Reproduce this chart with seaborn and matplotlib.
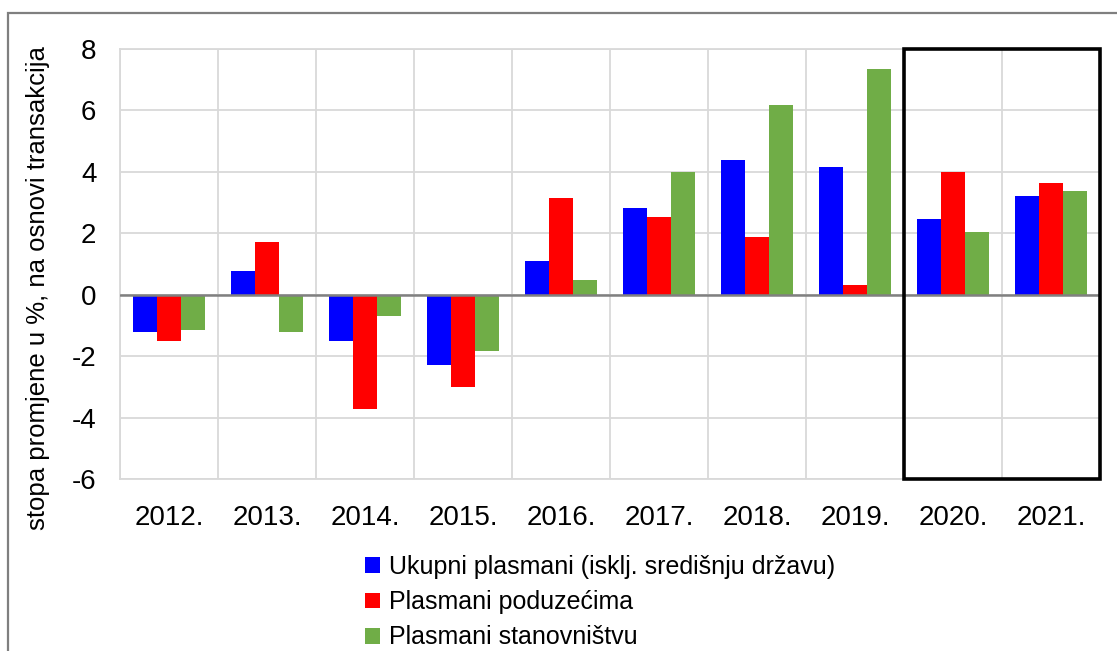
import pandas as pd
import numpy as np
import matplotlib.pyplot as plt
import matplotlib.patches as patches
import seaborn as sns

# Data
years = ["2012.", "2013.", "2014.", "2015.", "2016.", "2017.", "2018.", "2019.", "2020.", "2021."]
ukupni = [-1.2, 0.77, -1.52, -2.3, 1.09, 2.83, 4.39, 4.16, 2.48, 3.22]
poduzeca = [-1.52, 1.73, -3.73, -3.0, 3.14, 2.53, 1.89, 0.33, 3.98, 3.64]
stanovnistvo = [-1.15, -1.2, -0.68, -1.82, 0.48, 3.98, 6.19, 7.35, 2.05, 3.38]

series_names = ["Ukupni plasmani (isklj. središnju državu)",
                "Plasmani poduzećima",
                "Plasmani stanovništvu"]
colors = ["#0000ff", "#ff0000", "#70ad47"]
y_ticks = [-6, -4, -2, 0, 2, 4, 6, 8]
y_label = "stopa promjene u %, na osnovi transakcija"

df = pd.DataFrame({
    "godina": years * 3,
    "vrijednost": ukupni + poduzeca + stanovnistvo,
    "serija": [series_names[0]] * 10 + [series_names[1]] * 10 + [series_names[2]] * 10,
})

sns.set_style("white")
plt.rcParams["font.family"] = ["Liberation Sans", "DejaVu Sans"]
plt.rcParams["text.color"] = "black"
plt.rcParams["axes.labelcolor"] = "black"
plt.rcParams["xtick.color"] = "black"
plt.rcParams["ytick.color"] = "black"

fig = plt.figure(figsize=(11.17, 6.51), dpi=100)
ax = fig.add_axes([120 / 1117, 1 - 479 / 651, 980 / 1117, 430 / 651])

sns.barplot(data=df, x="godina", y="vrijednost",
            hue="serija", hue_order=series_names, order=years,
            palette=colors, width=0.725, linewidth=0, saturation=1,
            ax=ax, legend=True)

ax.set_ylim(-6, 8)
ax.set_xlim(-0.5, len(years) - 0.5)
ax.set_yticks(y_ticks)
ax.set_yticklabels([str(t) for t in y_ticks])
ax.set_xlabel("")
ax.set_ylabel(y_label, fontsize=18.5)
ax.yaxis.set_label_coords(-0.0714, 0.444)

# grid: horizontal at ticks, vertical between categories
ax.set_xticks(np.arange(len(years)) - 0.5, minor=True)
ax.grid(False)
ax.grid(axis="y", which="major", color="#d9d9d9", lw=1.3)
ax.grid(axis="x", which="minor", color="#d9d9d9", lw=1.3)
ax.set_axisbelow(True)
for s in ax.spines.values():
    s.set_color("#d9d9d9")
    s.set_linewidth(1.3)
ax.axhline(0, color="#808080", lw=1.8, zorder=3)

ax.tick_params(axis="both", which="both", length=0, labelsize=20)
ax.tick_params(axis="x", pad=19)
ax.tick_params(axis="y", pad=17)

# highlight box around 2020. and 2021.
box = patches.Rectangle((7.5, -6), 2, 14, fill=False, edgecolor="black",
                        lw=2.6, clip_on=False, zorder=5)
ax.add_patch(box)

# legend below the plot
handles, labels = ax.get_legend_handles_labels()
ax.get_legend().remove()
fig.legend(handles, labels, loc="upper left",
           bbox_to_anchor=(355 / 1117, 1 - 545 / 651),
           frameon=False, fontsize=18, ncol=1,
           handlelength=0.6, handleheight=0.6, handletextpad=0.35,
           labelspacing=0.45, borderaxespad=0)

# outer gray frame (partly cut off like the reference)
frame = patches.Rectangle((8 / 1117, -0.1), 1.2, 1.1 - 13 / 651,
                          transform=fig.transFigure, fill=False,
                          edgecolor="#7f7f7f", lw=1.6)
fig.patches.append(frame)

fig.savefig("out.png", dpi=100)
